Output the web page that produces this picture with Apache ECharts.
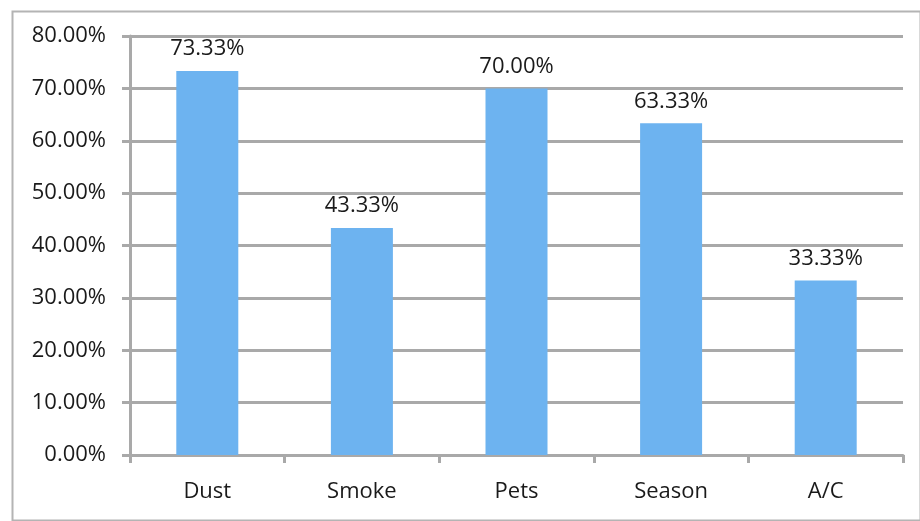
<!DOCTYPE html>
<html>
<head>
<meta charset="utf-8">
<script src="https://cdn.jsdelivr.net/npm/echarts@6/dist/echarts.min.js"></script>
<style>html,body{margin:0;padding:0;background:#fff;}#c{width:920px;height:521px;}</style>
</head>
<body>
<div id="c"></div>
<script>
const categories = ["Dust", "Smoke", "Pets", "Season", "A/C"];
const values = [73.33, 43.33, 70.00, 63.33, 33.33];
const yTicks = [0, 10, 20, 30, 40, 50, 60, 70, 80];

const chart = echarts.init(document.getElementById('c'), null, {renderer: 'canvas'});
const gridColor = '#a9a9a9';
const font = '"Open Sans", "Noto Sans", sans-serif';
chart.setOption({
  animation: false,
  backgroundColor: '#ffffff',
  graphic: [{
    type: 'rect', left: 10, top: 9, z: -1,
    shape: {width: 908, height: 509},
    style: {fill: 'none', stroke: '#b4b4b4', lineWidth: 2}
  }],
  grid: {left: 130, right: 17, top: 36, bottom: 66},
  xAxis: {
    type: 'category',
    data: categories,
    boundaryGap: true,
    axisLine: {lineStyle: {color: gridColor, width: 3}},
    axisTick: {show: true, length: 8, lineStyle: {color: gridColor, width: 3}},
    axisLabel: {color: '#1a1a1a', fontSize: 22, fontFamily: font, margin: 26}
  },
  yAxis: {
    type: 'value',
    min: yTicks[0], max: yTicks[yTicks.length - 1], interval: 10,
    axisLine: {show: true, lineStyle: {color: gridColor, width: 3}},
    axisTick: {show: true, length: 8, lineStyle: {color: gridColor, width: 3}},
    splitLine: {show: true, lineStyle: {color: gridColor, width: 3}},
    axisLabel: {color: '#1a1a1a', fontSize: 22, fontFamily: font, margin: 24,
      formatter: v => v.toFixed(2) + '%'}
  },
  series: [{
    type: 'bar',
    data: values,
    barWidth: 62,
    itemStyle: {color: '#6db3f0'},
    label: {show: true, position: 'top', distance: 11, color: '#1a1a1a',
      fontSize: 22, fontFamily: font, formatter: p => p.value.toFixed(2) + '%'}
  }]
});
</script>
</body>
</html>
